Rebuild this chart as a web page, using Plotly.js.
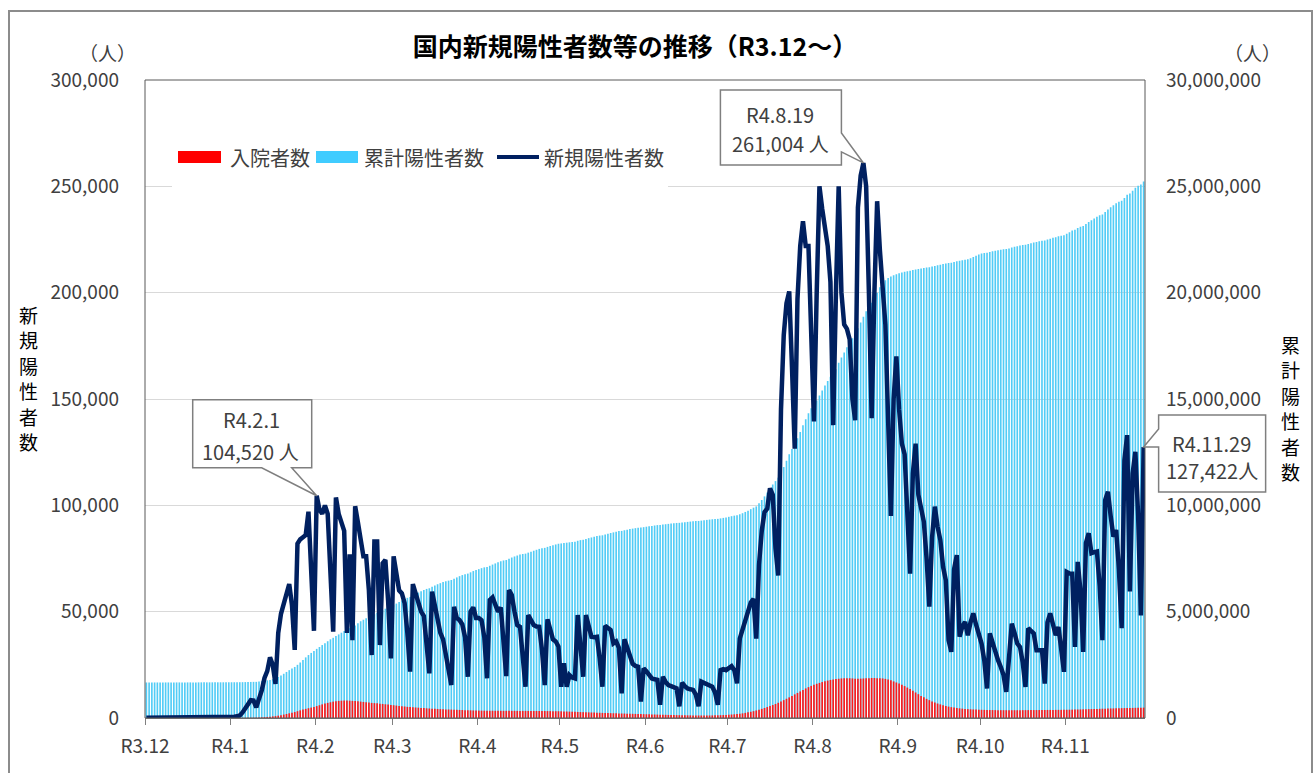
<!DOCTYPE html>
<html><head><meta charset="utf-8">
<script src="https://cdn.plot.ly/plotly-3.0.1.min.js"></script>
<style>
html,body{margin:0;padding:0;background:#fff;overflow:hidden;}
#chart{width:1314px;height:773px;}
#frame{position:absolute;left:8px;top:10px;width:1301px;height:800px;border:2px solid #8c8c8c;pointer-events:none;}
</style></head><body>
<div id="chart"></div><div id="frame"></div>
<script>
// ---- data (daily, 2021-12-01 .. 2022-11-29) ----
const startDate = '2021-12-01';
const endDate = '2022-11-30';
const monthTicks = ['2021-12-01','2022-01-01','2022-02-01','2022-03-01','2022-04-01','2022-05-01','2022-06-01','2022-07-01','2022-08-01','2022-09-01','2022-10-01','2022-11-01'];
const monthLabels = ['R3.12','R4.1','R4.2','R4.3','R4.4','R4.5','R4.6','R4.7','R4.8','R4.9','R4.10','R4.11'];

// 新規陽性者数 (thousand persons)
const newCasesK = [
/*Dec*/0.1,0.1,0.1,0.1,0.2,0.1,0.1,0.1,0.2,0.1,0.1,0.1,0.1,0.1,0.2,0.2,0.2,0.2,0.2,0.1,0.2,0.3,0.3,0.3,0.4,0.3,0.2,0.4,0.5,0.5,0.5,
/*Jan*/0.5,0.6,0.8,1.2,2.6,4.5,6.2,8.4,8.2,5.0,9.0,13.0,18.8,22.0,28.5,25.0,16.0,40.0,49.0,54.0,58.0,63.0,53.0,32.0,82.0,84.0,85.0,86.0,97.0,70.0,41.0,
/*Feb*/104.52,98,96,100,96,62,40.6,103.7,96,92,88,40,77,36.6,99.6,92,84,76,76,60,29.6,83,83,34.3,72.7,74.3,55,28,
/*Mar*/76,68,60,58.6,54,40,21.8,63,58,53,50,48,35,21,59.4,52,44.5,40,37,30,25,15.5,52.3,47,46,44,38,19.4,50,52,47,
/*Apr*/47,46,38,18.7,55.5,56.7,53,50,52,38,19.7,60.2,57.8,50,43.7,42.9,30,14.7,48.4,46,43.7,43,42.9,32,15.5,46.4,41.4,37,36,33.6,
/*May*/14.7,25.7,14.7,20.2,19,18.6,48.4,35,19.4,48.4,43,38.2,38,38.2,28,14.7,43.3,42,41.4,35.1,36,33,11.6,37,33,30.4,25.5,24.5,24.1,7.7,23.3,
/*Jun*/22,20,18.6,18.2,17.9,6.2,19.4,17,15.5,15,14.7,13.9,5.5,16.6,15,13.9,13.5,13.2,11,5.5,17.1,16.5,16.3,15.5,14.7,12,6.2,22.5,23,22.5,
/*Jul*/23.5,24.4,22.5,16.3,37.3,42,46.6,51,54.3,56,37.3,72,88,96.8,98.5,108,105,79.8,67,145,180,195,200.6,165,126.6,197,222,233.6,222,222,185,
/*Aug*/139.4,200,250,239.4,230.7,222,205,137.7,200,250,200,185,183,178,150,140,240,255,261.004,250,200,141,200,243,220,200,185,140,95,150,170,
/*Sep*/145,129,124,95,67.9,115,129,105,98.6,92.3,75,52.4,85,99.4,90,83.7,71.1,64.8,36.6,31.1,70,76.6,38.2,43,45.2,38.9,45,49.2,44,39.8,
/*Oct*/35,27,13.9,39.8,35,31.1,27.2,24,20.2,12.3,30,44.4,40,35,33.4,26,14.6,42.2,41,39.8,31.9,32,31.9,16.2,45,49.2,43,38.9,42.8,33,21.7,
/*Nov*/68.7,68,67.9,33.4,73.4,60,31.1,82.2,86.9,77.5,78,78.3,62,36.6,102.5,106.4,95,85.3,88.4,70,42.2,121.3,133,59.5,115,125.2,95,48.2,127.422
];

// 累計陽性者数 (thousand persons)
const cumulativeK = [
/*Dec*/1670,1670,1670,1671,1671,1671,1671,1672,1672,1672,1672,1673,1673,1673,1674,1674,1674,1675,1675,1675,1676,1676,1676,1677,1677,1678,1678,1678,1679,1679,1680,
/*Jan*/1680,1681,1682,1683,1685,1688,1692,1696,1699,1700,1715,1730,1750,1770,1790,1830,1870,1930,2000,2080,2165,2250,2330,2400,2500,2610,2730,2850,2960,3060,3150,
/*Feb*/3250,3340,3430,3520,3610,3700,3770,3850,3930,4010,4090,4150,4220,4270,4350,4450,4550,4620,4690,4760,4810,4880,4950,5000,5070,5140,5200,5250,
/*Mar*/5300,5380,5450,5520,5590,5650,5690,5760,5830,5900,5960,6020,6070,6100,6170,6230,6290,6340,6390,6430,6460,6490,6550,6610,6670,6720,6760,6790,6850,6910,6960,
/*Apr*/7000,7046,7084,7103,7158,7215,7268,7318,7370,7408,7428,7488,7546,7596,7640,7683,7713,7728,7776,7822,7866,7909,7952,7984,8000,8046,8087,8124,8160,8194,
/*May*/8209,8231,8244,8261,8277,8293,8334,8364,8380,8421,8458,8490,8522,8555,8579,8591,8628,8664,8699,8729,8760,8788,8798,8829,8857,8883,8905,8926,8946,8953,8973,
/*Jun*/8995,9015,9034,9052,9070,9076,9095,9112,9128,9143,9157,9171,9177,9193,9208,9222,9236,9249,9260,9265,9282,9299,9315,9331,9345,9357,9364,9386,9409,9432,
/*Jul*/9460,9490,9515,9535,9580,9630,9690,9750,9820,9890,9950,10100,10250,10420,10600,10790,10980,11140,11300,11500,11800,12100,12400,12650,12850,13150,13450,13760,14050,14330,14560,
/*Aug*/14720,14930,15170,15400,15630,15850,16050,16190,16400,16700,16950,17190,17430,17660,17860,18050,18330,18600,18870,19130,19350,19520,19750,20000,20250,20430,20580,20690,20760,20820,20870,
/*Sep*/20910,20950,20985,21010,21030,21060,21090,21115,21140,21165,21185,21200,21225,21255,21285,21315,21345,21370,21390,21410,21440,21475,21495,21520,21545,21570,21620,21680,21740,21800,
/*Oct*/21840,21865,21880,21915,21945,21975,22000,22022,22040,22052,22080,22120,22155,22185,22215,22238,22251,22288,22324,22359,22387,22415,22443,22457,22496,22539,22577,22611,22648,22677,22696,
/*Nov*/22771,22845,22919,22955,23035,23100,23134,23224,23319,23403,23488,23573,23641,23681,23793,23909,24013,24106,24202,24278,24324,24456,24601,24666,24791,24928,25031,25084,25223
];

// 入院者数 (thousand persons)
const hospitalK = [
/*Dec*/1.2,1.2,1.2,1.2,1.2,1.2,1.2,1.2,1.2,1.2,1.2,1.2,1.3,1.3,1.3,1.3,1.3,1.4,1.4,1.4,1.5,1.5,1.6,1.6,1.7,1.8,1.8,1.9,2.0,2.1,2.2,
/*Jan*/2.4,2.6,3,3.5,4.5,6,8,10,13,16,20,28,38,50,62,75,90,110,135,160,190,220,250,280,320,360,400,430,460,490,520,
/*Feb*/560,600,640,680,710,740,770,790,805,815,820,820,815,805,795,785,770,755,740,725,710,700,690,675,660,645,630,615,
/*Mar*/600,585,570,555,540,525,515,505,495,485,475,465,455,448,440,432,425,418,412,405,400,395,390,385,380,375,370,365,360,355,350,
/*Apr*/348,346,344,342,340,340,339,338,338,337,337,336,336,336,335,335,334,334,333,333,332,331,330,329,328,326,324,322,320,318,
/*May*/315,310,305,300,295,290,285,280,275,270,265,260,255,250,245,240,236,232,228,224,220,216,212,208,204,200,196,192,188,184,180,
/*Jun*/176,172,168,164,160,156,152,148,145,142,139,136,133,130,128,126,124,122,120,119,118,118,118,119,121,124,128,133,139,146,
/*Jul*/154,163,173,185,200,218,240,265,292,322,355,390,430,470,515,560,610,660,715,775,840,905,970,1040,1110,1180,1250,1320,1390,1450,1510,
/*Aug*/1560,1610,1650,1690,1730,1760,1790,1810,1830,1845,1860,1870,1875,1870,1860,1850,1845,1850,1860,1870,1875,1880,1880,1875,1870,1860,1840,1810,1770,1720,1670,
/*Sep*/1620,1560,1500,1430,1360,1280,1200,1120,1040,970,900,840,780,730,680,640,600,565,535,510,490,470,455,440,428,418,410,402,396,390,
/*Oct*/385,381,378,375,373,371,370,369,368,367,367,367,367,368,368,369,370,371,372,373,374,375,376,377,378,379,380,381,382,383,385,
/*Nov*/387,390,393,396,400,404,408,412,416,420,424,428,432,436,440,444,448,452,456,460,463,466,469,472,475,478,481,484,487
];

// annotated points
const calloutDates = ['2022-02-01','2022-08-19','2022-11-29'];
const calloutLabels = ['R4.2.1','R4.8.19','R4.11.29'];
const calloutUnitSep = [' ',' ',''];

// ---- build ----
const DAY = 86400000;
const t0 = Date.parse(startDate + 'T00:00:00Z');
const tEnd = Date.parse(endDate + 'T00:00:00Z');
function iso(ms){ return new Date(ms).toISOString().slice(0,19).replace('T',' '); }
const dates = newCasesK.map((_, i) => iso(t0 + i*DAY + DAY/2));
const K = v => Math.round(v*1000);
const LEFT_MAX = 300000;

const FONT = "'Noto Sans CJK JP', 'Noto Sans', sans-serif";
const TXT = '#404040';
const barW = 0.6*DAY;

const traces = [
  {type:'bar', x:dates, y:cumulativeK.map(K), yaxis:'y', width:barW, marker:{color:'#52CCF6', line:{width:0}}, name:'累計陽性者数', hoverinfo:'skip'},
  {type:'bar', x:dates, y:hospitalK.map(K), yaxis:'y', width:barW, marker:{color:'#FF1A1A', line:{width:0}}, name:'入院者数', hoverinfo:'skip'},
  {type:'scatter', mode:'lines', x:dates, y:newCasesK.map(K), yaxis:'y2', line:{color:'#002060', width:4.5}, name:'新規陽性者数', hoverinfo:'skip'}
];

// pixel helpers for paper coords (plot area 145..1145 x, 80..718 y)
const px = x => (x-145)/1000;
const py = y => (718-y)/638;

const shapes = [
  {type:'rect', xref:'paper', yref:'paper', x0:px(172), x1:px(668), y0:py(197), y1:py(122), fillcolor:'#fff', line:{width:0}, layer:'above'},
  {type:'rect', xref:'paper', yref:'paper', x0:px(178), x1:px(221), y0:py(163), y1:py(151), fillcolor:'#FF0000', line:{width:0}, layer:'above'},
  {type:'rect', xref:'paper', yref:'paper', x0:px(316), x1:px(358), y0:py(163), y1:py(151), fillcolor:'#40CCFF', line:{width:0}, layer:'above'},
  {type:'line', xref:'paper', yref:'paper', x0:px(497), x1:px(539), y0:py(157), y1:py(157), line:{color:'#002060', width:4}, layer:'above'},
  {type:'rect', xref:'paper', yref:'paper', x0:0, x1:1, y0:0, y1:1, line:{color:'#595959', width:1}, layer:'above'}
];

// callout box geometry relative to the pointed data point (pixels, y up)
const calloutPaths = [
  'M -124 28 L -55 28 L 0 0 L -25 28 L -5 28 L -5 96 L -124 96 Z',
  'M -143 -2 L -22 -2 L -22 11 L 0 0 L -22 30 L -22 73 L -143 73 Z',
  'M 15 32 L 122 32 L 122 -45 L 15 -45 L 15 0 L 0 0 L 15 18 Z'
];
const calloutText1 = [[-65,76],[-83,48],[68,4]];
const calloutText2 = [[-66,44],[-83,19],[68,-23]];

const annotations = [
  {xref:'paper', yref:'paper', x:px(228), y:py(157), xanchor:'left', yanchor:'middle', text:'入院者数', showarrow:false, font:{size:20, color:TXT}},
  {xref:'paper', yref:'paper', x:px(362), y:py(157), xanchor:'left', yanchor:'middle', text:'累計陽性者数', showarrow:false, font:{size:20, color:TXT}},
  {xref:'paper', yref:'paper', x:px(542), y:py(157), xanchor:'left', yanchor:'middle', text:'新規陽性者数', showarrow:false, font:{size:20, color:TXT}},
  {xref:'paper', yref:'paper', x:px(107), y:py(52), xanchor:'center', yanchor:'middle', text:'（人）', showarrow:false, font:{size:19, color:TXT}},
  {xref:'paper', yref:'paper', x:px(1252), y:py(52), xanchor:'center', yanchor:'middle', text:'（人）', showarrow:false, font:{size:19, color:TXT}}
];
// vertical axis titles, one character per line
const leftTitle = '新規陽性者数', rightTitle = '累計陽性者数';
[...leftTitle].forEach((ch, i) => annotations.push({xref:'paper', yref:'paper', x:px(28), y:py(314 + i*25.5), xanchor:'center', yanchor:'middle',
  text:ch, showarrow:false, font:{size:19, color:'#000'}}));
[...rightTitle].forEach((ch, i) => annotations.push({xref:'paper', yref:'paper', x:px(1290), y:py(344 + i*25.5), xanchor:'center', yanchor:'middle',
  text:ch, showarrow:false, font:{size:19, color:'#000'}}));

calloutDates.forEach((d, k) => {
  const idx = Math.round((Date.parse(d + 'T00:00:00Z') - t0) / DAY);
  const xd = dates[idx];
  const val = K(newCasesK[idx]);
  const xPaper = (Date.parse(xd.replace(' ', 'T') + 'Z') - t0) / (tEnd - t0);
  const yPaper = val / LEFT_MAX;
  shapes.push({type:'path', xref:'paper', yref:'paper', xsizemode:'pixel', ysizemode:'pixel', xanchor:xPaper, yanchor:yPaper,
    path:calloutPaths[k], fillcolor:'#fff', line:{color:'#7f7f7f', width:1.5}, layer:'above'});
  annotations.push({xref:'x', yref:'y2', x:xd, y:val, xshift:calloutText1[k][0], yshift:calloutText1[k][1],
    xanchor:'center', yanchor:'middle', showarrow:false, text:calloutLabels[k], font:{size:20, color:TXT}});
  annotations.push({xref:'x', yref:'y2', x:xd, y:val, xshift:calloutText2[k][0], yshift:calloutText2[k][1],
    xanchor:'center', yanchor:'middle', showarrow:false, text:val.toLocaleString('en-US') + calloutUnitSep[k] + '人', font:{size:20, color:TXT}});
});

const layout = {
  width:1314, height:773,
  margin:{l:145, r:169, t:80, b:55},
  paper_bgcolor:'#fff', plot_bgcolor:'#fff',
  font:{family:FONT, color:TXT, size:19},
  showlegend:false,
  barmode:'overlay',
  title:{text:'<b>国内新規陽性者数等の推移（R3.12～）</b>', xref:'container', yref:'container', x:635/1314, y:1-47/773, xanchor:'center', yanchor:'middle', font:{size:25, color:'#000', family:FONT}},
  xaxis:{type:'date', range:[startDate + ' 00:00:00', endDate + ' 00:00:00'], tickmode:'array', tickvals:monthTicks, ticktext:monthLabels,
    ticks:'outside', ticklen:6, tickcolor:'#808080', showgrid:false, showline:true, linecolor:'#808080', zeroline:false,
    tickfont:{size:19, color:TXT}, ticklabelstandoff:5, fixedrange:true},
  yaxis:{range:[0,30000000], tickmode:'linear', tick0:0, dtick:5000000, tickformat:',d', side:'right', showgrid:true, gridcolor:'#d9d9d9', gridwidth:1,
    zeroline:false, showline:false, ticks:'', tickfont:{size:19, color:TXT}, ticklabelstandoff:20, fixedrange:true},
  yaxis2:{range:[0,LEFT_MAX], tickmode:'linear', tick0:0, dtick:50000, tickformat:',d', side:'left', overlaying:'y', showgrid:false,
    zeroline:false, showline:false, ticks:'', tickfont:{size:19, color:TXT}, ticklabelstandoff:25, fixedrange:true},
  shapes:shapes,
  annotations:annotations
};

Plotly.newPlot('chart', traces, layout, {staticPlot:true, displayModeBar:false});
</script></body></html>
